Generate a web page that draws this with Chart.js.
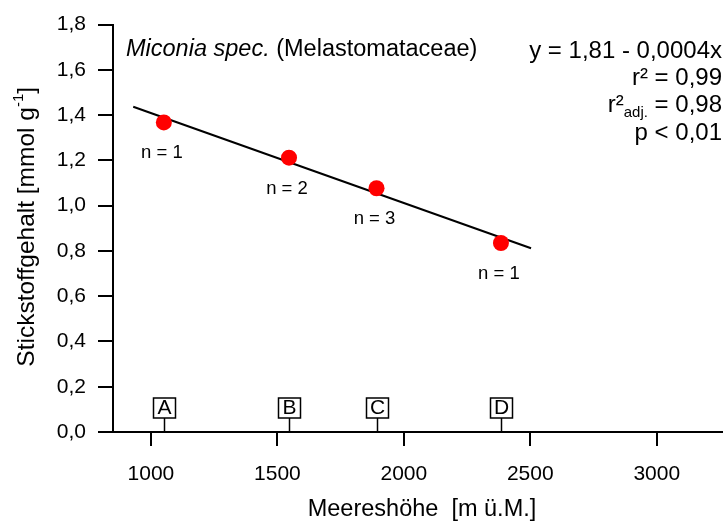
<!DOCTYPE html>
<html>
<head>
<meta charset="utf-8">
<script src="https://cdn.jsdelivr.net/npm/chart.js@4/dist/chart.umd.min.js"></script>
<style>
  html, body { margin: 0; padding: 0; background: #fff; }
  #wrap { width: 723px; height: 526px; }
</style>
</head>
<body>
<div id="wrap"><canvas id="c" width="723" height="526"></canvas></div>
<script>
// ---- data ----
const altitudes = [1051, 1546, 1892, 2384];          // m ü.M.
const nitrogen = [1.368, 1.212, 1.077, 0.835];        // mmol g-1
const sampleCounts = [1, 2, 3, 1];
const siteLabels = ['A', 'B', 'C', 'D'];
const fitX = [930, 2503];
const fitY = [1.437, 0.812];
const xTickValues = [1000, 1500, 2000, 2500, 3000];
const yTickValues = [0, 0.2, 0.4, 0.6, 0.8, 1.0, 1.2, 1.4, 1.6, 1.8];
const xTitle = 'Meereshöhe  [m ü.M.]';
const yTitleMain = 'Stickstoffgehalt [mmol g';
const yTitleSup = '-1';
const yTitleEnd = ']';
const speciesName = 'Miconia spec.';
const familyName = ' (Melastomataceae)';
const statLines = ['y = 1,81 - 0,0004x', 'r² = 0,99', 'adj', 'p < 0,01'];

const FONT = '"Liberation Sans", Arial, Helvetica, sans-serif';
const fmt = v => v.toFixed(1).replace('.', ',');

const annot = {
  id: 'annot',
  afterDatasetsDraw(chart) {
    const ctx = chart.ctx;
    const xs = chart.scales.x, ys = chart.scales.y;
    const area = chart.chartArea;
    ctx.save();
    ctx.fillStyle = '#000';
    ctx.strokeStyle = '#000';

    // n labels
    ctx.font = '18.5px ' + FONT;
    ctx.textAlign = 'center';
    ctx.textBaseline = 'middle';
    altitudes.forEach((a, i) => {
      const px = xs.getPixelForValue(a), py = ys.getPixelForValue(nitrogen[i]);
      ctx.fillText('n = ' + sampleCounts[i], px - 2, py + 31);
    });

    // site boxes A-D
    const axisY = area.bottom;
    ctx.lineWidth = 1.5;
    ctx.font = '21px ' + FONT;
    altitudes.forEach((a, i) => {
      const px = Math.round(xs.getPixelForValue(a)) + 0.5;
      ctx.beginPath();
      ctx.moveTo(px, axisY);
      ctx.lineTo(px, axisY - 14);
      ctx.stroke();
      ctx.strokeRect(px - 11, axisY - 34, 22, 20);
      ctx.fillText(siteLabels[i], px, axisY - 23.5);
    });

    // species title
    ctx.textAlign = 'left';
    ctx.textBaseline = 'alphabetic';
    ctx.font = 'italic 23.5px ' + FONT;
    const x0 = area.left + 13;
    ctx.fillText(speciesName, x0, 56);
    const w1 = ctx.measureText(speciesName).width;
    ctx.font = '23.5px ' + FONT;
    ctx.fillText(familyName, x0 + w1, 56);

    // statistics, right aligned
    const rx = 722;
    ctx.textAlign = 'right';
    ctx.font = '24px ' + FONT;
    ctx.fillText(statLines[0], rx, 58);
    ctx.fillText(statLines[1], rx, 85);
    // r²adj. = 0,98
    const tail = ' = 0,98';
    const wTail = ctx.measureText(tail).width;
    ctx.fillText(tail, rx, 112);
    ctx.font = '15px ' + FONT;
    const sub = 'adj.';
    const wSub = ctx.measureText(sub).width;
    ctx.fillText(sub, rx - wTail, 117);
    ctx.font = '24px ' + FONT;
    ctx.fillText('r²', rx - wTail - wSub, 112);
    ctx.fillText(statLines[3], rx, 140);

    // x title
    ctx.textAlign = 'center';
    ctx.font = '23.5px ' + FONT;
    ctx.fillText(xTitle, (area.left + area.right) / 2 + 4, 516);

    // y title with superscript
    ctx.translate(27, (area.top + area.bottom) / 2 - 1.5);
    ctx.rotate(-Math.PI / 2);
    ctx.font = '24.5px ' + FONT;
    const wMain = ctx.measureText(yTitleMain).width;
    const wEnd = ctx.measureText(yTitleEnd).width;
    ctx.font = '15px ' + FONT;
    const wSup = ctx.measureText(yTitleSup).width;
    const total = wMain + wSup + wEnd;
    let sx = -total / 2;
    ctx.textAlign = 'left';
    ctx.textBaseline = 'middle';
    ctx.font = '24.5px ' + FONT;
    ctx.fillText(yTitleMain, sx, 0);
    sx += wMain;
    ctx.font = '15px ' + FONT;
    ctx.fillText(yTitleSup, sx, -8);
    sx += wSup;
    ctx.font = '24.5px ' + FONT;
    ctx.fillText(yTitleEnd, sx, 0);
    ctx.restore();
  }
};

new Chart(document.getElementById('c'), {
  type: 'scatter',
  data: {
    datasets: [
      {
        label: 'Stickstoff',
        data: altitudes.map((a, i) => ({ x: a, y: nitrogen[i] })),
        backgroundColor: '#ff0000',
        borderColor: '#ff0000',
        pointRadius: 8,
        pointHoverRadius: 8,
        borderWidth: 0,
        order: 0
      },
      {
        label: 'Regression',
        data: fitX.map((x, i) => ({ x: x, y: fitY[i] })),
        showLine: true,
        borderColor: '#000',
        borderWidth: 2,
        pointRadius: 0,
        fill: false,
        order: 1
      }
    ]
  },
  options: {
    responsive: false,
    animation: false,
    devicePixelRatio: 1,
    layout: { autoPadding: false, padding: { top: 23, right: 0, left: 0, bottom: 0 } },
    plugins: { legend: { display: false }, tooltip: { enabled: false } },
    scales: {
      x: {
        type: 'linear',
        min: 850,
        max: 3262,
        afterBuildTicks: s => { s.ticks = xTickValues.map(v => ({ value: v })); },
        afterFit: s => { s.height = 94; },
        border: { display: true, color: '#000', width: 2 },
        grid: { display: true, drawOnChartArea: false, drawTicks: true, tickLength: 14, color: '#000', lineWidth: 2 },
        ticks: { color: '#000', font: { family: FONT, size: 21 }, padding: 16, maxRotation: 0, callback: v => String(v) }
      },
      y: {
        type: 'linear',
        min: 0,
        max: 1.8,
        afterBuildTicks: s => { s.ticks = yTickValues.map(v => ({ value: v })); },
        afterFit: s => { s.width = 113; },
        border: { display: true, color: '#000', width: 2 },
        grid: { display: true, drawOnChartArea: false, drawTicks: true, tickLength: 15, color: '#000', lineWidth: 2 },
        ticks: { color: '#000', font: { family: FONT, size: 21 }, padding: 12, callback: v => fmt(v) }
      }
    }
  },
  plugins: [annot]
});
</script>
</body>
</html>
